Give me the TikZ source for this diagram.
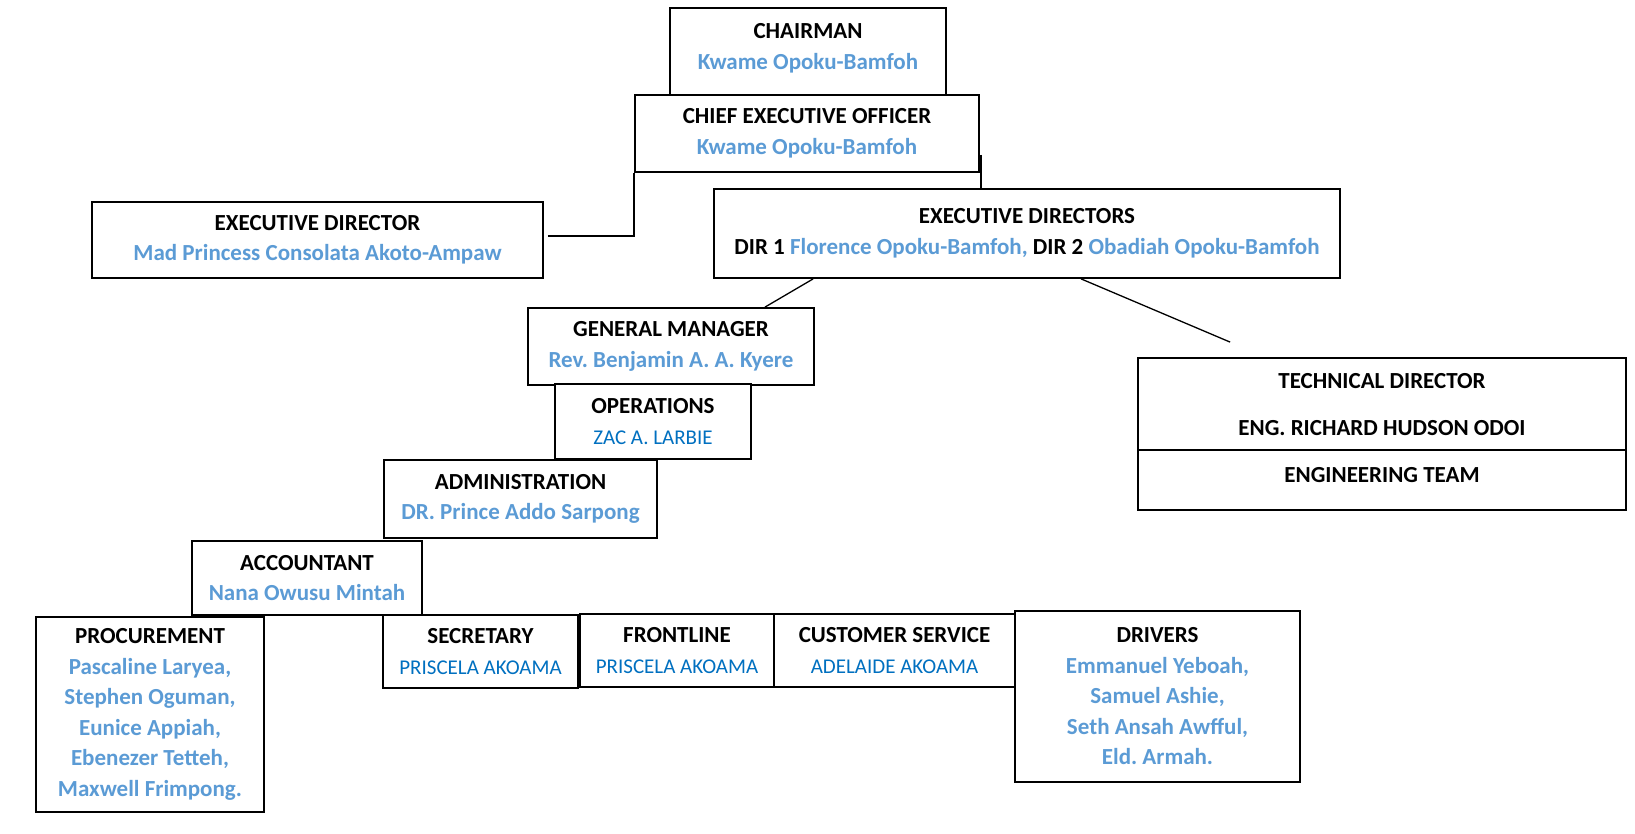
\documentclass[tikz,border=0pt]{standalone}
\usepackage{fontspec}
\setmainfont{Carlito}
\usetikzlibrary{calc}
\definecolor{lb}{HTML}{5B9BD5}
\definecolor{db}{HTML}{0070C0}
\newcommand{\regname}[1]{{\fontsize{21}{30.5}\selectfont\mdseries\textcolor{db}{#1}}}
\begin{document}
\frenchspacing
\begin{tikzpicture}[x=1pt,y=-1pt,
  font=\fontsize{23}{30.5}\selectfont\bfseries\frenchspacing,
  box/.style={draw, line width=1.8pt, fill=white, align=center, inner sep=0pt},
  lbl/.style={inner sep=0pt, align=center},
  conn/.style={line width=1.3pt},
]
\useasboundingbox (0,0) rectangle (1635,834);
\node[box, minimum width=276pt, minimum height=87pt] (chair) at (808,51.5) {};
\node[lbl] (chairtxt) at (808,48.5) {CHAIRMAN\\\textcolor{lb}{Kwame Opoku-Bamfoh}};
\node[box, minimum width=344pt, minimum height=77pt] (ceo) at (807,133.5) {CHIEF EXECUTIVE OFFICER\\\textcolor{lb}{Kwame Opoku-Bamfoh}};
\node[box, minimum width=451pt, minimum height=76pt] (exd) at (317.5,240) {EXECUTIVE DIRECTOR\\\textcolor{lb}{Mad Princess Consolata Akoto-Ampaw}};
\node[box, minimum width=626pt, minimum height=89pt] (exds) at (1027,233.5) {EXECUTIVE DIRECTORS\\DIR 1 \textcolor{lb}{Florence Opoku-Bamfoh,} DIR 2 \textcolor{lb}{Obadiah Opoku-Bamfoh}};
\node[box, minimum width=286pt, minimum height=77pt] (gm) at (671,346.5) {GENERAL MANAGER\\\textcolor{lb}{Rev. Benjamin A. A. Kyere}};
\node[box, minimum width=196pt, minimum height=75pt] (ops) at (653,421.5) {OPERATIONS\\\regname{ZAC A. LARBIE}};
\node[box, minimum width=273pt, minimum height=78pt] (adm) at (520.5,499) {ADMINISTRATION\\\textcolor{lb}{DR. Prince Addo Sarpong}};
\node[box, minimum width=230pt, minimum height=74pt] (acc) at (307,578) {ACCOUNTANT\\\textcolor{lb}{Nana Owusu Mintah}};
\node[box, minimum width=228pt, minimum height=195pt] (proc) at (150,714.5) {PROCUREMENT\\\textcolor{lb}{Pascaline Laryea,}\\\textcolor{lb}{Stephen Oguman,}\\\textcolor{lb}{Eunice Appiah,}\\\textcolor{lb}{Ebenezer Tetteh,}\\\textcolor{lb}{Maxwell Frimpong.}};
\node[box, minimum width=195pt, minimum height=73pt] (sec) at (480.5,651.5) {SECRETARY\\\regname{PRISCELA AKOAMA}};
\node[box, minimum width=194pt, minimum height=73pt] (front) at (677,650.5) {FRONTLINE\\\regname{PRISCELA AKOAMA}};
\node[box, minimum width=241pt, minimum height=73pt] (cs) at (894.5,650.5) {CUSTOMER SERVICE\\\regname{ADELAIDE AKOAMA}};
\node[box, minimum width=285pt, minimum height=171pt] (drv) at (1157.5,696.5) {DRIVERS\\\textcolor{lb}{Emmanuel Yeboah,}\\\textcolor{lb}{Samuel Ashie,}\\\textcolor{lb}{Seth Ansah Awfful,}\\\textcolor{lb}{Eld. Armah.}};
\node[box, minimum width=488pt, minimum height=152pt] (td) at (1382,434) {};
\node[lbl] (td1) at (1382,381) {TECHNICAL DIRECTOR};
\node[lbl] (td2) at (1382,428) {ENG. RICHARD HUDSON ODOI};
\coordinate (tddiv) at (1382,450);
\draw[conn] (td.west |- tddiv) -- (td.east |- tddiv);
\node[lbl] (td3) at (1382,475) {ENGINEERING TEAM};
% connectors
\coordinate (ceoR) at ($(ceo.south east)+(1,0)$);
\draw[conn] (ceoR) ++(0,-18) -- (ceoR |- exds.north);
\draw[conn] ([xshift=4pt,yshift=4pt]exd.east) -| (ceo.south west);
\draw[conn] ([xshift=100pt]exds.south west) -- ([xshift=94pt]gm.north);
\coordinate (tdc) at ($(td.north west)+(93,-15)$);
\draw[conn] ([xshift=368pt]exds.south west) -- (tdc);
\end{tikzpicture}
\end{document}
